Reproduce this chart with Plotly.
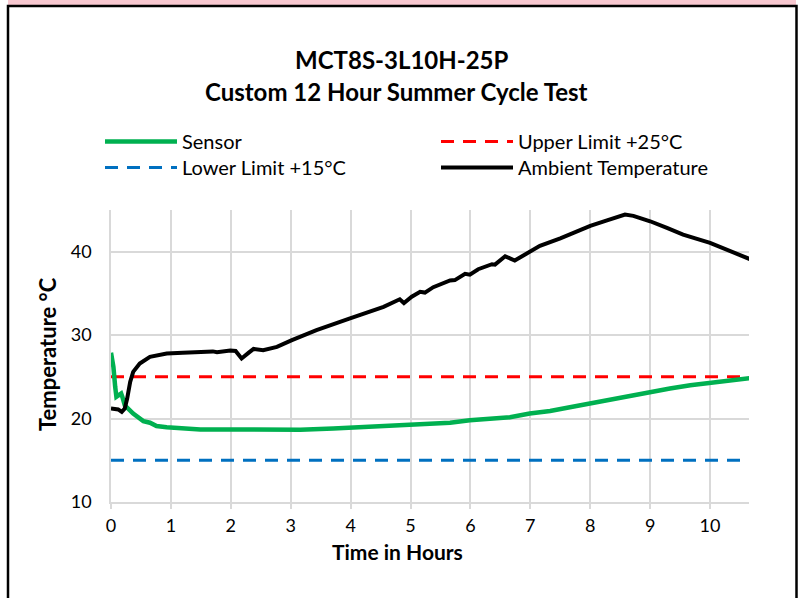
import plotly.graph_objects as go

# ---------------- data ----------------
sensor_hours = [0.0, 0.04, 0.07, 0.09, 0.13, 0.17, 0.19, 0.23, 0.37, 0.54, 0.65, 0.76, 0.93,
                1.2, 1.49, 2.04, 2.59, 3.16, 3.71, 4.27, 4.82, 5.38, 5.66, 5.99, 6.33, 6.66,
                6.99, 7.33, 7.66, 8.0, 8.33, 8.66, 9.0, 9.33, 9.67, 10.0, 10.33, 10.67]
sensor_temp = [27.9, 26.2, 23.8, 22.6, 22.8, 23.0, 22.6, 21.6, 20.6, 19.7, 19.5, 19.1, 18.95,
               18.8, 18.7, 18.7, 18.7, 18.65, 18.8, 19.0, 19.2, 19.3, 19.5, 19.8, 19.95, 20.15,
               20.6, 20.9, 21.35, 21.8, 22.3, 22.8, 23.2, 23.6, 24.0, 24.3, 24.6, 24.85]

ambient_hours = [0.0, 0.12, 0.18, 0.23, 0.27, 0.32, 0.37, 0.48, 0.65, 0.93, 1.2, 1.49, 1.7,
                 1.77, 1.99, 2.08, 2.18, 2.3, 2.38, 2.54, 2.77, 3.02, 3.43, 3.99, 4.55, 4.82,
                 4.89, 5.02, 5.16, 5.24, 5.38, 5.66, 5.74, 5.91, 5.99, 6.13, 6.36, 6.41, 6.58,
                 6.74, 6.99, 7.16, 7.5, 7.77, 8.0, 8.28, 8.5, 8.58, 8.72, 9.0, 9.28, 9.55,
                 10.0, 10.39, 10.67]
ambient_temp = [21.2, 21.1, 20.8, 21.2, 22.4, 24.4, 25.6, 26.6, 27.4, 27.8, 27.9, 28.0, 28.05,
                27.95, 28.15, 28.1, 27.2, 27.9, 28.35, 28.2, 28.6, 29.4, 30.6, 32.0, 33.4, 34.3,
                33.85, 34.6, 35.2, 35.1, 35.75, 36.55, 36.6, 37.35, 37.25, 37.9, 38.5, 38.45, 39.45,
                38.95, 40.0, 40.7, 41.6, 42.4, 43.1, 43.75, 44.35, 44.45, 44.3, 43.65, 42.85, 42.05,
                41.05, 39.85, 39.1]

limit_hours = [0.0, 10.67]
upper_limit = [25, 25]
lower_limit = [15, 15]

x_ticks = [0, 1, 2, 3, 4, 5, 6, 7, 8, 9, 10]
y_ticks = [10, 20, 30, 40]

title_line1 = "MCT8S-3L10H-25P"
title_line2 = "Custom 12 Hour Summer Cycle Test"
x_title = "Time in Hours"
y_title = "Temperature °C"

# ---------------- layout helpers ----------------
W, H = 804, 598
L, R, T, B = 111, 749, 210, 502
FONT = "Lato"


def px2x(p):
    return (p - L) / (R - L)


def py2y(p):
    return (B - p) / (B - T)


fig = go.Figure()

fig.add_trace(go.Scatter(x=limit_hours, y=upper_limit, mode="lines", name="Upper Limit +25°C",
                         line=dict(color="#FF0000", width=3, dash="13px,9px"),
                         legend="legend", legendrank=2))
fig.add_trace(go.Scatter(x=limit_hours, y=lower_limit, mode="lines", name="Lower Limit +15°C",
                         line=dict(color="#0070C0", width=3, dash="13px,9px"),
                         legend="legend2", legendrank=1))
fig.add_trace(go.Scatter(x=sensor_hours, y=sensor_temp, mode="lines", name="Sensor",
                         line=dict(color="#00B050", width=4.5), legend="legend", legendrank=1))
fig.add_trace(go.Scatter(x=ambient_hours, y=ambient_temp, mode="lines", name="Ambient Temperature",
                         line=dict(color="#000000", width=4), legend="legend2", legendrank=2))

shapes = [
    # pink band at top
    dict(type="rect", xref="paper", yref="paper", x0=px2x(8), x1=px2x(796), y0=py2y(0), y1=py2y(6),
         fillcolor="#F8C8D0", line=dict(width=0), layer="above"),
    # frame
    dict(type="rect", xref="paper", yref="paper", x0=px2x(8), x1=px2x(796.5), y0=py2y(6), y1=py2y(605),
         fillcolor="rgba(0,0,0,0)", line=dict(color="black", width=2.5), layer="above"),
]

annotations = [
    dict(text=f"<b>{title_line1}</b>", xref="paper", yref="paper", x=px2x(402), y=py2y(60),
         showarrow=False, xanchor="center", yanchor="middle", font=dict(family=FONT, size=24, color="black")),
    dict(text=f"<b>{title_line2}</b>", xref="paper", yref="paper", x=px2x(396), y=py2y(92),
         showarrow=False, xanchor="center", yanchor="middle", font=dict(family=FONT, size=24, color="black")),
    dict(text=f"<b>{x_title}</b>", xref="paper", yref="paper", x=px2x(397), y=py2y(551),
         showarrow=False, xanchor="center", yanchor="middle", font=dict(family=FONT, size=21, color="black")),
    dict(text=f"<b>{y_title}</b>", xref="paper", yref="paper", x=px2x(47), y=py2y(354),
         showarrow=False, xanchor="center", yanchor="middle", textangle=-90,
         font=dict(family=FONT, size=22, color="black")),
]

legend_style = dict(orientation="h", xanchor="left", yanchor="top",
                    entrywidth=249, itemwidth=72, font=dict(family=FONT, size=20, color="black"),
                    bgcolor="rgba(0,0,0,0)", tracegroupgap=0)

fig.update_layout(
    width=W, height=H,
    margin=dict(l=L, r=W - R, t=T, b=H - B, pad=0),
    paper_bgcolor="white", plot_bgcolor="white",
    font=dict(family=FONT, size=17, color="black"),
    shapes=shapes,
    annotations=annotations,
    showlegend=True,
    legend=dict(x=px2x(100), y=py2y(122), **legend_style),
    legend2=dict(x=px2x(100), y=py2y(148), **legend_style),
)

fig.update_xaxes(range=[0, 10.65], tickvals=x_ticks, ticktext=[str(v) for v in x_ticks],
                 showgrid=True, gridcolor="#D9D9D9", gridwidth=1.5,
                 showline=True, linecolor="#D9D9D9", linewidth=1.5,
                 ticks="outside", ticklen=5, tickcolor="#D9D9D9", tickwidth=1.5,
                 zeroline=False, ticklabelstandoff=2,
                 tickfont=dict(family=FONT, size=18, color="black"))
fig.update_yaxes(range=[10, 45], tickvals=y_ticks, ticktext=[str(v) for v in y_ticks],
                 showgrid=True, gridcolor="#D9D9D9", gridwidth=1.5,
                 showline=True, linecolor="#D9D9D9", linewidth=1.5,
                 ticks="", zeroline=False, ticklabelstandoff=14,
                 tickfont=dict(family=FONT, size=18, color="black"))

fig.write_html("out.html", config={"displayModeBar": False},
               post_script="document.body.style.margin='0px';")
